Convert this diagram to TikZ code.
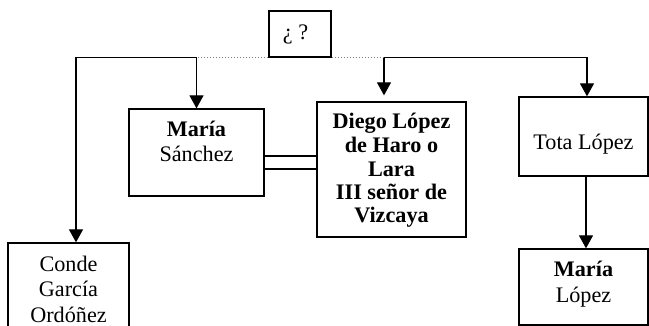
\documentclass[tikz,border=0pt]{standalone}
\usepackage{fontspec}
\setmainfont{Liberation Serif}
\usetikzlibrary{arrows.meta, calc}
\def\cbox#1#2#3#4{\parbox[c][#2][t]{#1}{\centering\rule{0pt}{#3}#4}}

\begin{document}
\begin{tikzpicture}[x=0.5pt, y=-0.5pt, line width=0.65pt,
  font=\fontsize{11.1pt}{12.6pt}\selectfont,
  box/.style={draw, inner sep=0pt},
  arr/.style={-{Triangle[length=6.5pt,width=7pt]}},
  dots/.style={densely dotted, gray, line width=0.5pt}]
\useasboundingbox (0,0) rectangle (649,326);

\node[box] (q) at (300,34) {\cbox{31pt}{23pt}{14.2pt}{¿ ?\hspace*{4.5pt}}};
\node[box] (ms) at (196.5,152.5) {\cbox{67.5pt}{43.5pt}{13.9pt}{\textbf{María}\\Sánchez}};
\node[box] (dl) at (391.5,169.5) {\cbox{74.5pt}{67.5pt}{13.5pt}{\fontsize{11.1pt}{11.75pt}\selectfont\bfseries Diego López\\de Haro o\\Lara\\III señor de\\Vizcaya}};
\node[box] (tl) at (583.5,136.5) {\cbox{64.5pt}{39.5pt}{26.5pt}{Tota López}};
\node[box] (ml) at (583.5,287) {\cbox{64.5pt}{38pt}{13.9pt}{\textbf{María}\\López}};
\node[box] (cg) at (68.5,292) {\cbox{60.5pt}{49pt}{14.3pt}{Conde\\García\\Ordóñez}};

% left branch
\draw[dots] (q.south west) -- (ms.north |- q.south);
\draw[arr] (ms.north |- q.south) -| ([xshift=3.75pt]cg.north);
\draw[arr] (ms.north |- q.south) -- (ms.north);
% right branch
\draw[dots] (q.south east) -- ([xshift=-3.75pt]dl.north |- q.south);
\draw[arr] ([xshift=-3.75pt]dl.north |- q.south) -| ([xshift=1.75pt]tl.north);
\draw[arr, shorten >=3pt] ([xshift=-3.75pt]dl.north |- q.south) -- ([xshift=-3.75pt]dl.north);
\draw[arr] ([xshift=1.25pt]tl.south) -- ([xshift=1.25pt]ml.north);

% marriage
\draw ([yshift=-1.75pt]ms.east) -- ([yshift=-1.75pt]ms.east -| dl.west);
\draw ([yshift=-8.25pt]ms.east) -- ([yshift=-8.25pt]ms.east -| dl.west);
\end{tikzpicture}
\end{document}
